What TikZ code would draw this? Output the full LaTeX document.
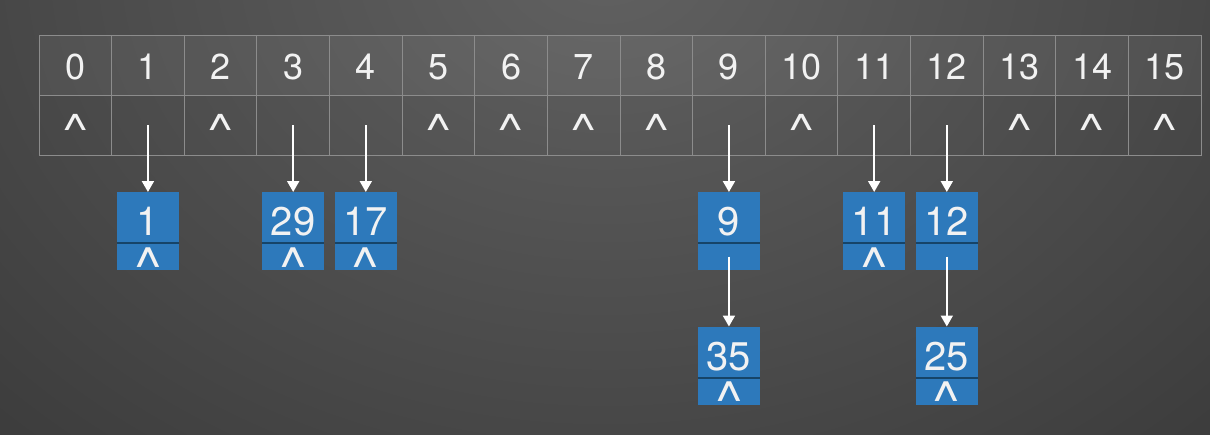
\documentclass[tikz,border=0pt]{standalone}
\usepackage{fontspec}
\setmainfont{TeX Gyre Heros}
\usetikzlibrary{arrows.meta}
\definecolor{bgin}{HTML}{616161}
\definecolor{bgout}{HTML}{2A2A2A}
\definecolor{gridc}{HTML}{8C8C8C}
\definecolor{blueb}{HTML}{2D79BB}
\definecolor{bluedark}{HTML}{164468}
\definecolor{txt}{HTML}{F2F2F2}
\tikzset{
  hcell/.style={draw=gridc, line width=1pt, fill=white, fill opacity=0.05, text opacity=1,
    minimum width=72.625pt, minimum height=60pt, inner sep=0pt, outer sep=0pt,
    text=txt, font=\fontsize{36}{36}\selectfont, text height=28pt, text depth=0pt},
  pcell/.style={draw=gridc, line width=1pt, minimum width=72.625pt, minimum height=60pt,
    inner sep=0pt, outer sep=0pt},
  caret/.style={anchor=base, inner sep=0pt, text=txt, font=\fontsize{34}{34}\selectfont},
  bcaret/.style={anchor=base, inner sep=0pt, text=txt, font=\fontsize{37}{37}\selectfont},
  val/.style={fill=blueb, minimum width=62pt, minimum height=51pt, inner sep=0pt, outer sep=0pt,
    text=txt, font=\fontsize{40}{40}\selectfont, text height=36pt, text depth=0pt},
  nxt/.style={fill=blueb, minimum width=62pt, minimum height=27pt, inner sep=0pt, outer sep=0pt},
  divline/.style={draw=bluedark, line width=2pt},
  arr/.style={draw=white, line width=2pt, -{Triangle[width=12pt,length=11pt]}}
}
\newcommand{\tcaret}{\scalebox{1.65}[1.25]{\textasciicircum}}
\newcommand{\bcaretsym}{\scalebox{1.6}[1.4]{\textasciicircum}}
\begin{document}
\begin{tikzpicture}[x=1pt,y=-1pt]
\useasboundingbox (0,0) rectangle (1210,434);
\begin{scope}
\clip (0,0) rectangle (1210,434);
\fill[bgout] (0,0) rectangle (1210,434);
\shade[inner color=bgin, outer color=bgout] (605,-40) ellipse (1300 and 1000);
\end{scope}
% table
\foreach \ci in {0,...,15} {
  \node[hcell] (h\ci) at ({39+72.625*(\ci+0.5)},65) {\ci};
  \node[pcell] (p\ci) at ({39+72.625*(\ci+0.5)},125) {};
}
\foreach \ci in {0,2,5,6,7,8,10,13,14,15} {
  \node[caret] (c\ci) at ({39+72.625*(\ci+0.5)},144.5) {\tcaret};
}
% first level nodes
\foreach \ci/\cv/\cn in {1/1/1, 3/29/1, 4/17/1, 9/9/0, 11/11/1, 12/12/0} {
  \node[val] (v\ci) at ({39+72.625*(\ci+0.5)},217.5) {\cv};
  \node[nxt] (n\ci) at ({39+72.625*(\ci+0.5)},256.5) {};
  \draw[divline] (n\ci.north west) -- (n\ci.north east);
  \ifnum\cn=1
    \node[bcaret] (b\ci) at ({39+72.625*(\ci+0.5)},284.5) {\bcaretsym};
  \fi
  \draw[arr] (p\ci.center) -- (v\ci.north);
}
% second level nodes
\foreach \ci/\cv in {9/35, 12/25} {
  \node[val] (w\ci) at ({39+72.625*(\ci+0.5)},352) {\cv};
  \node[nxt] (m\ci) at ({39+72.625*(\ci+0.5)},391) {};
  \draw[divline] (m\ci.north west) -- (m\ci.north east);
  \node[bcaret] (d\ci) at ({39+72.625*(\ci+0.5)},418.5) {\bcaretsym};
  \draw[arr] (n\ci.center) -- (w\ci.north);
}
\end{tikzpicture}
\end{document}
